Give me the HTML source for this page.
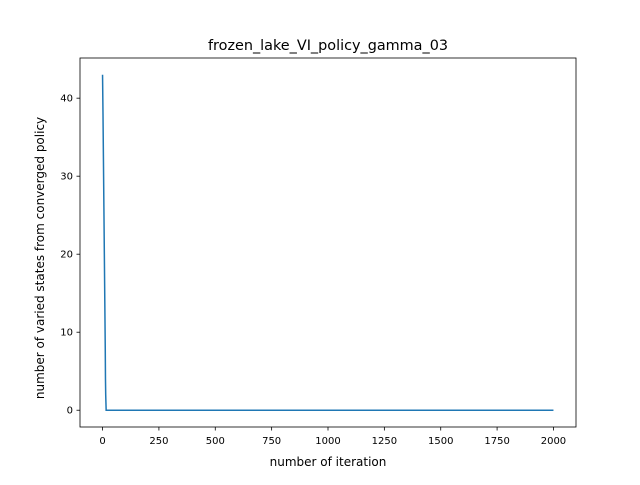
<!DOCTYPE html>
<html><head><meta charset="utf-8"><style>
body{margin:0;background:#fff;font-family:"Liberation Sans","DejaVu Sans",sans-serif;}
svg text{font-family:"DejaVu Sans","Liberation Sans",sans-serif;}
</style></head><body>
<svg id="chart" width="640" height="480" xmlns="http://www.w3.org/2000/svg">
<rect width="640" height="480" fill="#fff"/>
<text x="328" y="50" font-size="14.4" text-anchor="middle">frozen_lake_VI_policy_gamma_03</text>
<g id="plot"></g>
<rect x="80" y="58" width="496" height="369" fill="none" stroke="#000" stroke-width="0.8"/>
<text x="328" y="466" font-size="12" text-anchor="middle">number of iteration</text>
<text transform="translate(44,258) rotate(-90)" font-size="12" text-anchor="middle">number of varied states from converged policy</text>
</svg>
<script>
const iterations=[0,2,4,6,8,10,12,13,14,15,16,2000];
const variedStates=[43,38,32,26,20,14,8,4,2,1,0,0];
const xTicks=[0,250,500,750,1000,1250,1500,1750,2000];
const yTicks=[0,10,20,30,40];
const NS="http://www.w3.org/2000/svg";
const L=80,R=576,T=58,B=427;
const xmin=-100,xmax=2100,ymin=-2.15,ymax=45.15;
function xs(v){return L+(v-xmin)/(xmax-xmin)*(R-L);}
function ys(v){return B-(v-ymin)/(ymax-ymin)*(B-T);}
const g=document.getElementById('plot');
function mk(t,a){const e=document.createElementNS(NS,t);for(const k in a)e.setAttribute(k,a[k]);g.appendChild(e);return e;}
xTicks.forEach(v=>{
 const l=mk('line',{x1:xs(v),x2:xs(v),y1:B,y2:B+3.5,stroke:'#000','stroke-width':0.8});
 
 
 const t=mk('text',{x:xs(v),y:B+17,'font-size':10,'text-anchor':'middle'});
 t.textContent=v;
 
 
});
yTicks.forEach(v=>{
 const l=mk('line',{x1:L-3.5,x2:L,y1:ys(v),y2:ys(v),stroke:'#000','stroke-width':0.8});
 
 
 const t=mk('text',{x:L-7,y:ys(v)+3.5,'font-size':10,'text-anchor':'end'});
 t.textContent=v;
 
 
});
const p=mk('polyline',{points:iterations.map((x,i)=>xs(x)+','+ys(variedStates[i])).join(' '),fill:'none',stroke:'#1f77b4','stroke-width':1.5});


</script>
</body></html>
